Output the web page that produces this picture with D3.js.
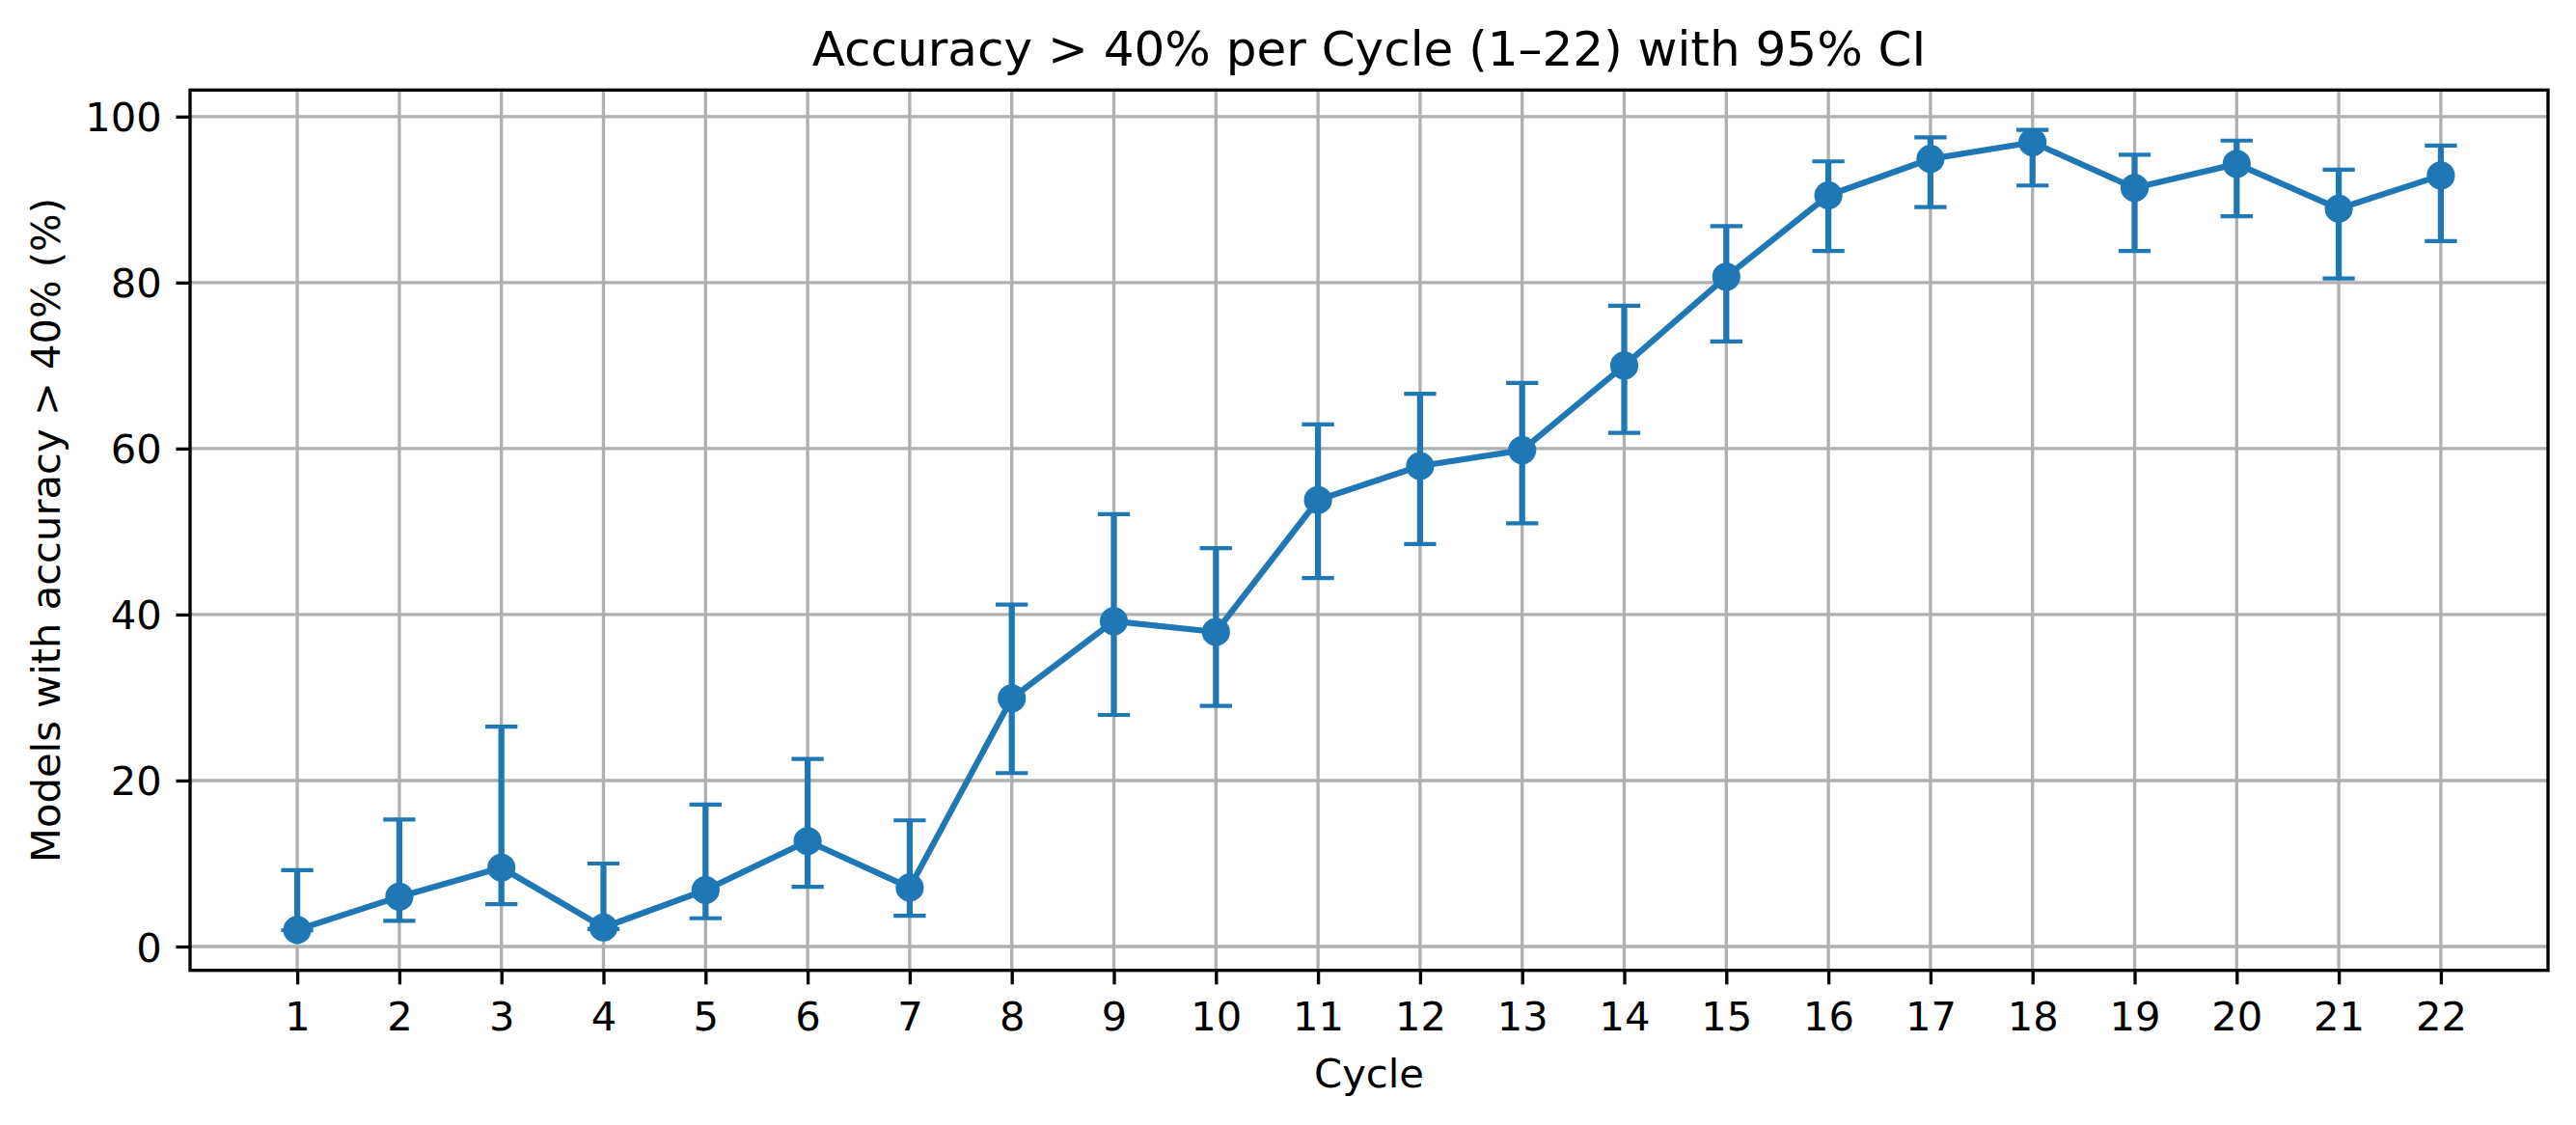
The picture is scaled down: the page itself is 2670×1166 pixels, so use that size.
<!DOCTYPE html>
<html>
<head>
<meta charset="utf-8">
<script src="https://cdn.jsdelivr.net/npm/d3@7/dist/d3.min.js"></script>
<style>
  html, body { margin: 0; padding: 0; background: #fff; }
  text { font-family: "DejaVu Sans", sans-serif; fill: #000; }
</style>
</head>
<body>
<svg id="chart" width="2670" height="1166"></svg>
<script>
const cycles = [1,2,3,4,5,6,7,8,9,10,11,12,13,14,15,16,17,18,19,20,21,22];
const values = [2.0,6.0,9.5,2.3,6.8,12.7,7.1,29.9,39.2,37.9,53.8,57.9,59.8,70.0,80.7,90.5,94.9,96.9,91.4,94.3,88.9,92.9];
const ciLow  = [1.95,3.1,5.1,2.1,3.4,7.2,3.7,20.9,27.9,29.0,44.4,48.5,51.0,61.9,72.9,83.8,89.1,91.7,83.8,88.0,80.5,85.0];
const ciHigh = [9.2,15.3,26.5,10.0,17.1,22.6,15.2,41.2,52.1,48.0,62.9,66.6,67.9,77.2,86.8,94.6,97.5,98.4,95.4,97.1,93.6,96.5];
const yTicks = [0,20,40,60,80,100];
const titleText = "Accuracy > 40% per Cycle (1\u201322) with 95% CI";
const xLabelText = "Cycle";
const yLabelText = "Models with accuracy > 40% (%)";

const color = "#1f77b4";
const L = 197, R = 2641, T = 93.3, B = 1005.7;
const svg = d3.select("#chart");

const x = d3.scaleLinear().domain([-0.05, 23.05]).range([L, R]);
const y = d3.scaleLinear().domain([-2.87, 103.2]).range([B, T]);

// grid
const grid = svg.append("g");
grid.selectAll("line.gx").data(cycles).enter().append("line")
  .attr("x1", d => x(d)).attr("x2", d => x(d)).attr("y1", T).attr("y2", B)
  .attr("stroke", "#b0b0b0").attr("stroke-width", 3.33);
grid.selectAll("line.gy").data(yTicks).enter().append("line")
  .attr("x1", L).attr("x2", R).attr("y1", d => y(d)).attr("y2", d => y(d))
  .attr("stroke", "#b0b0b0").attr("stroke-width", 3.33);

// axes
const xAxis = d3.axisBottom(x).tickValues(cycles).tickSize(14.6).tickPadding(14.6).tickFormat(d3.format("d"));
const yAxis = d3.axisLeft(y).tickValues(yTicks).tickSize(14.6).tickPadding(14.6).tickFormat(d3.format("d"));
const gx = svg.append("g").attr("transform", `translate(0,${B})`).call(xAxis);
const gy = svg.append("g").attr("transform", `translate(${L},0)`).call(yAxis);
[gx, gy].forEach(g => {
  g.select(".domain").remove();
  g.selectAll(".tick line").attr("stroke", "#000").attr("stroke-width", 3.33);
  g.selectAll(".tick text").attr("font-size", 41.67).attr("font-family", "DejaVu Sans").attr("fill", "#000");
});
gx.selectAll(".tick text").attr("dy", null).attr("y", null).attr("transform", null)
  .attr("y", 1068 - B).attr("dominant-baseline", "auto");
gy.selectAll(".tick text").attr("dy", "0.36em");

// error bars
const eb = svg.append("g");
eb.selectAll("line.bar").data(cycles).enter().append("line")
  .attr("x1", d => x(d)).attr("x2", d => x(d))
  .attr("y1", (d,i) => y(ciLow[i])).attr("y2", (d,i) => y(ciHigh[i]))
  .attr("stroke", color).attr("stroke-width", 6.25);
const capW = 33.3;
eb.selectAll("line.capLo").data(cycles).enter().append("line")
  .attr("x1", d => x(d) - capW/2).attr("x2", d => x(d) + capW/2)
  .attr("y1", (d,i) => y(ciLow[i])).attr("y2", (d,i) => y(ciLow[i]))
  .attr("stroke", color).attr("stroke-width", 4.17);
eb.selectAll("line.capHi").data(cycles).enter().append("line")
  .attr("x1", d => x(d) - capW/2).attr("x2", d => x(d) + capW/2)
  .attr("y1", (d,i) => y(ciHigh[i])).attr("y2", (d,i) => y(ciHigh[i]))
  .attr("stroke", color).attr("stroke-width", 4.17);

// line
const line = d3.line().x(d => x(d[0])).y(d => y(d[1]));
svg.append("path").datum(cycles.map((c,i) => [c, values[i]]))
  .attr("d", line).attr("fill", "none").attr("stroke", color)
  .attr("stroke-width", 6.25).attr("stroke-linejoin", "round").attr("stroke-linecap", "butt");

// markers (6pt face + 1pt edge)
svg.append("g").selectAll("circle").data(cycles).enter().append("circle")
  .attr("cx", d => x(d)).attr("cy", (d,i) => y(values[i])).attr("r", 12.5)
  .attr("fill", color).attr("stroke", color).attr("stroke-width", 4.17);

// spines
svg.append("rect").attr("x", L).attr("y", T).attr("width", R - L).attr("height", B - T)
  .attr("fill", "none").attr("stroke", "#000").attr("stroke-width", 3.33);

// title & labels
svg.append("text").attr("x", (L + R)/2).attr("y", 68).attr("text-anchor", "middle")
  .attr("font-size", 50).text(titleText);
svg.append("text").attr("x", (L + R)/2).attr("y", 1127).attr("text-anchor", "middle")
  .attr("font-size", 41.67).text(xLabelText);
svg.append("text").attr("transform", `translate(62,${(T + B)/2}) rotate(-90)`)
  .attr("text-anchor", "middle").attr("font-size", 41.67).text(yLabelText);
</script>
</body>
</html>
